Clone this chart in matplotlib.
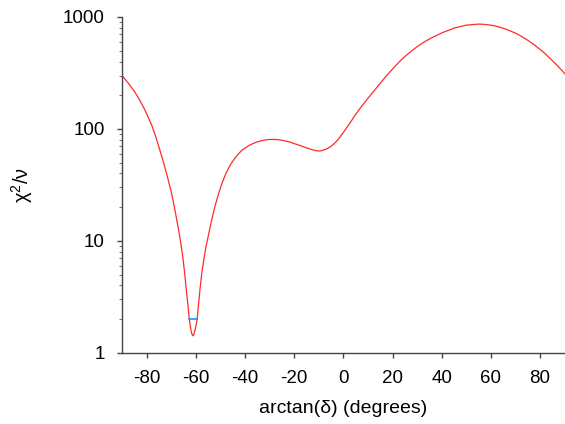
import numpy as np
import matplotlib
matplotlib.use("Agg")
import matplotlib.pyplot as plt
from matplotlib.ticker import FixedLocator, FixedFormatter, LogLocator, NullFormatter

plt.rcParams['font.family'] = ['Liberation Sans', 'DejaVu Sans']
plt.rcParams['mathtext.fontset'] = 'custom'
plt.rcParams['mathtext.rm'] = 'Liberation Sans'
plt.rcParams['mathtext.it'] = 'Liberation Sans'

# reduced chi-square scan against mixing angle
angle = [-90, -87.5, -85, -83, -81, -79.5, -78, -76.5, -75, -73, -71.5,
         -70, -68.7, -67.7, -66.7, -66.0, -65.3, -64.6, -64.0, -63.3, -62.6,
         -62.0, -61.6, -61.2, -60.8, -60.3, -59.5, -58.9, -58.2, -57.5, -56.8,
         -55.9, -55, -54, -53, -52, -51, -50, -49, -48, -47,
         -46, -45, -44, -43, -42, -41, -40, -39, -38, -37,
         -36, -35, -33, -31, -29, -27, -25, -22, -19.3, -17,
         -15, -13, -11, -10, -9, -7, -5.2, -3.5, -2, 0,
         2.2, 5, 7.5, 10, 13, 15.5, 18, 21, 23.8, 27,
         30, 33, 35.9, 40.5, 45.4, 50, 54.8, 57, 60, 63.5,
         66.9, 70, 72, 75, 77.7, 81, 84, 87, 90]
chi2_nu = [300, 257, 217, 184, 152, 129, 109, 88, 69, 49, 37,
           27.5, 20, 15.2, 11.5, 9.2, 7.2, 5.3, 3.9, 2.8, 1.96,
           1.6, 1.47, 1.42, 1.47, 1.6, 1.96, 2.7, 3.9, 5.3, 6.7,
           8.8, 10.9, 13.9, 17.3, 21.2, 25.3, 29.7, 34.3, 38.9, 43.3,
           47.5, 51.4, 55.2, 58.8, 62.1, 65.2, 67.5, 69.8, 71.8, 73.6,
           75.2, 76.6, 78.8, 80.2, 80.7, 80.4, 79.3, 76.6, 73.2, 70.3,
           67.8, 65.5, 63.9, 63.5, 63.8, 65.9, 69.5, 74.8, 81.3, 93,
           109, 135, 160, 188, 226, 264, 307, 362, 420, 483,
           543, 601, 652, 728, 800, 845, 863, 860, 845, 813,
           767, 716, 679, 619, 562, 492, 428, 368, 312]

# one-sigma interval around the best fit
sigma_x = [-62.8, -59.7]
sigma_y = [1.99, 1.99]

yticks = [1, 10, 100, 1000]
ytick_labels = ['1', '10', '100', '1000']
xticks = [-80, -60, -40, -20, 0, 20, 40, 60, 80]

fig = plt.figure(figsize=(5.65, 4.24), dpi=100)
ax = fig.add_axes([0.216, 0.1677, 0.7835, 0.7923])

ax.plot(angle, chi2_nu, color='#ff2a2a', lw=0.9)
ax.plot(sigma_x, sigma_y, color='#2090ff', lw=1.2)

ax.set_yscale('log')
ax.set_xlim(-90, 90)
ax.set_ylim(1, 1000)

ax.yaxis.set_major_locator(FixedLocator(yticks))
ax.yaxis.set_major_formatter(FixedFormatter(ytick_labels))
ax.yaxis.set_minor_locator(LogLocator(base=10, subs=np.arange(2, 10)))
ax.yaxis.set_minor_formatter(NullFormatter())
ax.set_xticks(xticks)
ax.set_xticklabels([str(t) for t in xticks])

for side in ['top', 'right']:
    ax.spines[side].set_visible(False)
for side in ['left', 'bottom']:
    ax.spines[side].set_color('#444444')
    ax.spines[side].set_linewidth(1.0)

ax.tick_params(which='major', direction='out', length=3.6, width=1.0,
               color='#444444', labelsize=13.5, pad=9)
ax.tick_params(which='minor', direction='out', length=2.2, width=0.8,
               color='#777777')

ax.set_xlabel('arctan(δ) (degrees)', fontsize=14, labelpad=9)
ax.set_ylabel(r'χ$^{2}$/ν', fontsize=14.5, labelpad=20)

fig.savefig('out.png', dpi=100)
